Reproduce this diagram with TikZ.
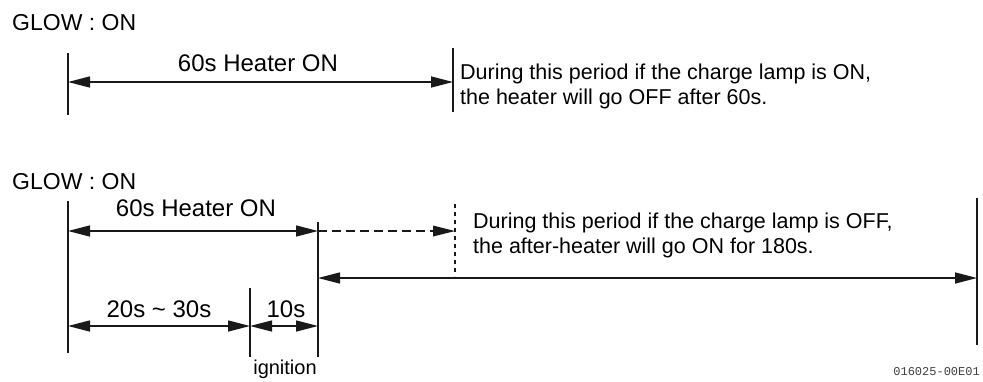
\documentclass[tikz,border=0pt]{standalone}
\usepackage{fontspec}
\setmainfont{Liberation Sans}
\setmonofont{Liberation Mono}
\usetikzlibrary{arrows.meta}
\tikzset{
  bar/.style={line width=2.8pt, black!90},
  dim/.style={line width=1.4pt, black!90, {Triangle[length=22pt,width=11pt]}-{Triangle[length=22pt,width=11pt]}},
  dimdash/.style={line width=2.8pt, black!90, dash pattern=on 9pt off 5pt, -{Triangle[length=22pt,width=11pt,line width=0pt]}},
  vdash/.style={line width=2.6pt, black!90, dash pattern=on 4pt off 4pt},
  lab/.style={inner sep=0pt, anchor=base, font=\fontsize{24}{28}\selectfont},
  title/.style={inner sep=0pt, anchor=base west, font=\fontsize{23}{27}\selectfont},
  desc/.style={inner sep=0pt, anchor=base west, align=left, font=\fontsize{21.5}{24.5}\selectfont},
  small/.style={inner sep=0pt, anchor=base, font=\fontsize{20}{24}\selectfont},
  code/.style={inner sep=0pt, anchor=base east, text=black!75, font=\ttfamily\fontsize{12}{14}\selectfont}
}
\begin{document}
\begin{tikzpicture}[x=1pt,y=-1pt]
\useasboundingbox (0,0) rectangle (983,381);
% ---------- top diagram ----------
\node[title] (g1) at (12,30) {GLOW : ON};
\coordinate (a1t) at (68,53);  \coordinate (a1b) at (68,115);
\coordinate (b1t) at (453,48); \coordinate (b1b) at (453,112);
\draw[bar] (a1t) -- (a1b);
\draw[bar] (b1t) -- (b1b);
\coordinate (a1) at (68,82); \coordinate (b1) at (453,82);
\draw[dim] (a1) -- (b1);
\node[lab] (h1) at (258,71) {60s Heater ON};
\node[desc] (d1) at (460,104) {During this period if the charge lamp is ON,\\the heater will go OFF after 60s.};
% ---------- bottom diagram ----------
\node[title] (g2) at (12,189) {GLOW : ON};
\coordinate (a2t) at (68,201);  \coordinate (a2b) at (68,353);
\coordinate (c2t) at (318,222); \coordinate (c2b) at (318,357);
\coordinate (i2t) at (250,288); \coordinate (i2b) at (250,357);
\coordinate (e2t) at (977,198); \coordinate (e2b) at (977,345);
\coordinate (v2t) at (455,204); \coordinate (v2b) at (455,276);
\draw[bar] (a2t) -- (a2b);
\draw[bar] (c2t) -- (c2b);
\draw[bar] (i2t) -- (i2b);
\draw[bar] (e2t) -- (e2b);
\draw[vdash] (v2t) -- (v2b);
\coordinate (a2) at (68,231); \coordinate (c2) at (318,231); \coordinate (v2) at (455,231);
\draw[dim] (a2) -- (c2);
\draw[dimdash] (c2) -- (v2);
\coordinate (c3) at (318,278); \coordinate (e3) at (977,278);
\draw[dim] (c3) -- (e3);
\coordinate (a4) at (68,326); \coordinate (i4) at (250,326); \coordinate (c4) at (318,326);
\draw[dim] (a4) -- (i4);
\draw[dim] (i4) -- (c4);
\node[lab] (h2) at (196,216) {60s Heater ON};
\node[desc] (d2) at (473,253) {During this period if the charge lamp is OFF,\\the after-heater will go ON for 180s.};
\node[lab] (t1) at (159,317) {20s \textasciitilde{} 30s};
\node[lab] (t2) at (286,317) {10s};
\node[small] (ig) at (285,374) {ignition};
\node[code] (cd) at (980,375) {016025-00E01};
\end{tikzpicture}
\end{document}
